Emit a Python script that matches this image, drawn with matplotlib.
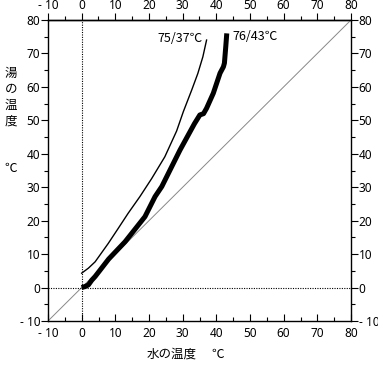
import matplotlib
matplotlib.use("Agg")
import matplotlib.pyplot as plt
from matplotlib.ticker import MultipleLocator, FixedLocator

plt.rcParams['font.family'] = ['Noto Sans', 'Noto Sans CJK JP', 'DejaVu Sans']

# Data
thin_x = [0, 2, 4, 7.9, 10.8, 13.8, 17.3, 20.8, 24.7, 28.2, 30.2, 32.7, 34.5, 36.0, 37.1]
thin_y = [4.3, 5.8, 7.7, 13.2, 17.6, 22.2, 27.2, 32.6, 39.1, 46.8, 52.6, 59.1, 64.0, 69.0, 74.0]
thick_x = [0, 1, 2, 3, 4, 8, 12.9, 18.8, 21.8, 23.8, 29.2, 33.5, 35.1, 36.2, 37.1, 39.1, 41.1, 42.1, 42.4, 42.8, 43.1]
thick_y = [0, 0.3, 0.8, 2.2, 3.3, 8.5, 13.7, 21.2, 27.2, 30.2, 41.1, 49.0, 51.6, 52.0, 53.6, 58.1, 64.1, 66.0, 67.1, 72.0, 76.0]
thin_label = "75/37℃"
thick_label = "76/43℃"
ticks = [-10, 0, 10, 20, 30, 40, 50, 60, 70, 80]
tick_labels = ["- 10", "0", "10", "20", "30", "40", "50", "60", "70", "80"]
ylabel_chars = ["湯", "の", "温", "度"]

FS = 9
TFS = 8.5
CJK = ['Noto Sans CJK JP', 'DejaVu Sans']

fig = plt.figure(figsize=(3.78, 3.66), dpi=100)
ax = fig.add_axes([48/378, 1-321/366, (351-48)/378, (321-20)/366])

ax.plot([-10, 80], [-10, 80], color='#888888', lw=0.7)
ax.axvline(0, color='black', lw=0.8, ls=(0, (1, 1.2)))
ax.axhline(0, color='black', lw=0.8, ls=(0, (1, 1.2)))
ax.plot(thin_x, thin_y, color='black', lw=1.0)
ax.plot(thick_x, thick_y, color='black', lw=3.6, solid_capstyle='butt')

ax.text(36.0, 74.5, thin_label, ha='right', va='center', fontsize=FS, family=CJK)
ax.text(44.8, 75.2, thick_label, ha='left', va='center', fontsize=FS, family=CJK)

ax.set_xlim(-10, 80)
ax.set_ylim(-10, 80)
for a in (ax.xaxis, ax.yaxis):
    a.set_major_locator(FixedLocator(ticks))
    a.set_minor_locator(MultipleLocator(5))
ax.set_xticklabels(tick_labels)
ax.set_yticklabels(tick_labels)

ax.tick_params(axis='y', which='both', direction='out', left=True, right=True,
               labelleft=True, labelright=True, labelsize=TFS, width=0.8, pad=0.5)
ax.tick_params(axis='x', which='both', direction='in', bottom=True, top=False,
               labelbottom=True, labeltop=False, labelsize=TFS, width=0.8, pad=4)
ax.tick_params(which='major', length=5)
ax.tick_params(which='minor', length=3)

sec = ax.secondary_xaxis('top')
sec.set_xticks(ticks)
sec.set_xticklabels(tick_labels)
sec.xaxis.set_minor_locator(MultipleLocator(5))
sec.tick_params(which='both', direction='out', labelsize=TFS, width=0.8, pad=0.8)
sec.tick_params(which='major', length=5)
sec.tick_params(which='minor', length=3)

for s in ax.spines.values():
    s.set_linewidth(1.0)
sec.spines['top'].set_linewidth(1.0)

for ch, py in zip(ylabel_chars, [73, 89, 105, 121]):
    fig.text(11/378, 1-py/366, ch, ha='center', va='center', fontsize=FS, family=CJK)
fig.text(11/378, 1-168/366, "℃", ha='center', va='center', fontsize=FS, family=CJK)
fig.text(172/378, 1-354/366, "水の温度", ha='center', va='center', fontsize=FS, family=CJK)
fig.text(218/378, 1-354/366, "℃", ha='center', va='center', fontsize=FS, family=CJK)

fig.savefig("out.png", dpi=100)
